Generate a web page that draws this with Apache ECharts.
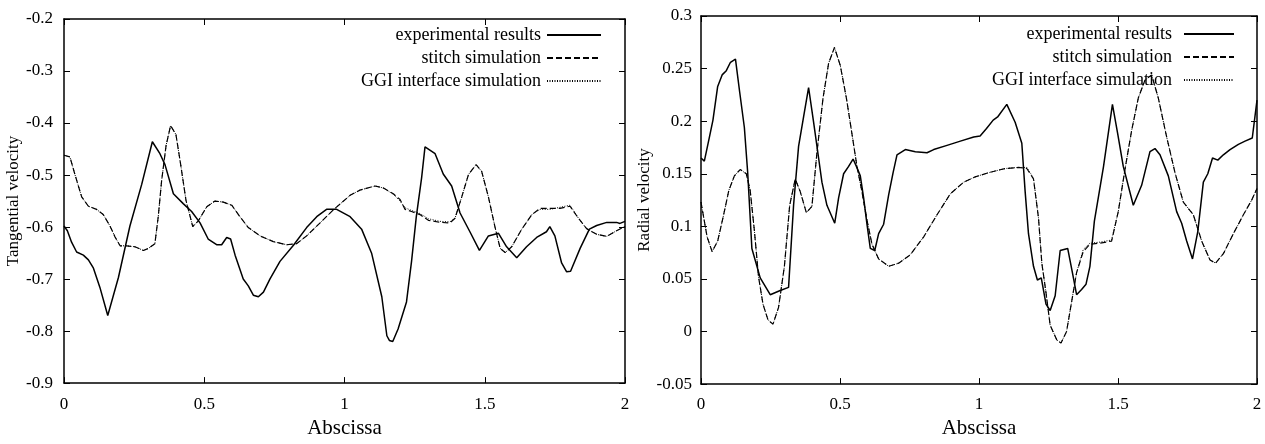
<!DOCTYPE html>
<html>
<head>
<meta charset="utf-8">
<script src="https://cdn.jsdelivr.net/npm/echarts@6/dist/echarts.min.js"></script>
<style>
  html, body { margin: 0; padding: 0; background: #fff; }
  #chart { width: 1265px; height: 444px; }
</style>
</head>
<body>
<div id="chart"></div>
<script>
// legend names
const seriesNames = ['experimental results', 'stitch simulation', 'GGI interface simulation'];

// tick setup
const xTicks = { min: 0, max: 2, interval: 0.5 };
const tanTicks = { min: -0.9, max: -0.2, interval: 0.1 };
const radTicks = { min: -0.05, max: 0.3, interval: 0.05 };

// left panel: tangential velocity [abscissa, value]
const tanExperimental = [
  [0, -0.598], [0.012, -0.607], [0.027, -0.629], [0.045, -0.648], [0.069, -0.654], [0.087, -0.663],
  [0.105, -0.679], [0.128, -0.716], [0.156, -0.770], [0.194, -0.697], [0.235, -0.598], [0.277, -0.518],
  [0.315, -0.436], [0.342, -0.459], [0.360, -0.480], [0.390, -0.536], [0.425, -0.555], [0.455, -0.570],
  [0.485, -0.592], [0.514, -0.623], [0.544, -0.634], [0.562, -0.634], [0.580, -0.620], [0.594, -0.623],
  [0.610, -0.654], [0.639, -0.700], [0.657, -0.713], [0.675, -0.731], [0.693, -0.734], [0.711, -0.725],
  [0.734, -0.700], [0.770, -0.666], [0.818, -0.635], [0.865, -0.601], [0.901, -0.580], [0.936, -0.566],
  [0.972, -0.566], [1.020, -0.580], [1.061, -0.604], [1.097, -0.651], [1.133, -0.734], [1.151, -0.809],
  [1.160, -0.818], [1.172, -0.820], [1.191, -0.796], [1.221, -0.744], [1.239, -0.666], [1.256, -0.580],
  [1.275, -0.505], [1.287, -0.446], [1.323, -0.459], [1.352, -0.498], [1.382, -0.521], [1.412, -0.573],
  [1.448, -0.610], [1.481, -0.645], [1.513, -0.617], [1.549, -0.612], [1.578, -0.638], [1.614, -0.659],
  [1.649, -0.638], [1.685, -0.620], [1.720, -0.609], [1.732, -0.599], [1.750, -0.617], [1.774, -0.669],
  [1.792, -0.686], [1.806, -0.685], [1.840, -0.641], [1.873, -0.604], [1.899, -0.597], [1.935, -0.591],
  [1.970, -0.591], [1.982, -0.593], [2.0, -0.589]
];
const tanStitch = [
  [0, -0.462], [0.021, -0.465], [0.039, -0.499], [0.063, -0.542], [0.087, -0.560], [0.116, -0.566],
  [0.140, -0.576], [0.164, -0.598], [0.182, -0.619], [0.200, -0.636], [0.223, -0.636], [0.253, -0.638],
  [0.283, -0.645], [0.301, -0.641], [0.324, -0.632], [0.336, -0.580], [0.348, -0.511], [0.364, -0.443],
  [0.380, -0.405], [0.399, -0.422], [0.416, -0.480], [0.435, -0.549], [0.459, -0.599], [0.479, -0.588],
  [0.509, -0.561], [0.538, -0.550], [0.568, -0.552], [0.598, -0.558], [0.627, -0.580], [0.657, -0.601],
  [0.699, -0.617], [0.746, -0.628], [0.794, -0.634], [0.829, -0.632], [0.865, -0.617], [0.913, -0.592],
  [0.960, -0.567], [1.020, -0.539], [1.055, -0.529], [1.109, -0.521], [1.139, -0.525], [1.174, -0.536],
  [1.198, -0.547], [1.216, -0.566], [1.239, -0.570], [1.269, -0.576], [1.299, -0.587], [1.340, -0.591],
  [1.376, -0.592], [1.394, -0.583], [1.418, -0.542], [1.442, -0.499], [1.469, -0.480], [1.489, -0.493],
  [1.513, -0.542], [1.537, -0.601], [1.555, -0.641], [1.573, -0.649], [1.596, -0.638], [1.632, -0.604],
  [1.668, -0.576], [1.697, -0.564], [1.733, -0.564], [1.768, -0.564], [1.804, -0.560], [1.834, -0.583],
  [1.863, -0.603], [1.899, -0.614], [1.935, -0.618], [1.970, -0.607], [2.0, -0.599]
];
const tanGGI = [
  [0, -0.462], [0.021, -0.465], [0.039, -0.499], [0.063, -0.542], [0.087, -0.560], [0.116, -0.566],
  [0.140, -0.576], [0.164, -0.598], [0.182, -0.619], [0.200, -0.636], [0.223, -0.636], [0.253, -0.638],
  [0.283, -0.645], [0.301, -0.641], [0.324, -0.632], [0.336, -0.580], [0.348, -0.511], [0.364, -0.443],
  [0.380, -0.405], [0.399, -0.422], [0.416, -0.480], [0.435, -0.549], [0.459, -0.599], [0.479, -0.588],
  [0.509, -0.561], [0.538, -0.550], [0.568, -0.552], [0.598, -0.558], [0.627, -0.580], [0.657, -0.601],
  [0.699, -0.617], [0.746, -0.628], [0.794, -0.634], [0.829, -0.632], [0.865, -0.617], [0.913, -0.592],
  [0.960, -0.567], [1.020, -0.539], [1.055, -0.529], [1.109, -0.521], [1.139, -0.525], [1.174, -0.537],
  [1.198, -0.550], [1.216, -0.563], [1.239, -0.568], [1.269, -0.574], [1.299, -0.584], [1.340, -0.589],
  [1.376, -0.590], [1.394, -0.583], [1.418, -0.542], [1.442, -0.499], [1.469, -0.480], [1.489, -0.493],
  [1.513, -0.542], [1.537, -0.601], [1.555, -0.641], [1.573, -0.649], [1.596, -0.638], [1.632, -0.604],
  [1.668, -0.576], [1.697, -0.566], [1.733, -0.566], [1.768, -0.562], [1.804, -0.558], [1.834, -0.583],
  [1.863, -0.603], [1.899, -0.614], [1.935, -0.618], [1.970, -0.607], [2.0, -0.599]
];

// right panel: radial velocity [abscissa, value]
const radExperimental = [
  [0, 0.165], [0.012, 0.162], [0.028, 0.182], [0.043, 0.201], [0.060, 0.233], [0.076, 0.244],
  [0.091, 0.248], [0.106, 0.256], [0.124, 0.259], [0.139, 0.228], [0.156, 0.194], [0.168, 0.151],
  [0.183, 0.079], [0.213, 0.051], [0.249, 0.035], [0.285, 0.039], [0.315, 0.042], [0.333, 0.120],
  [0.351, 0.176], [0.369, 0.204], [0.387, 0.232], [0.405, 0.199], [0.423, 0.165], [0.435, 0.142],
  [0.453, 0.120], [0.481, 0.103], [0.495, 0.127], [0.513, 0.150], [0.531, 0.157], [0.547, 0.164],
  [0.559, 0.157], [0.573, 0.148], [0.585, 0.127], [0.597, 0.102], [0.609, 0.079], [0.625, 0.077],
  [0.639, 0.093], [0.657, 0.102], [0.675, 0.130], [0.691, 0.151], [0.705, 0.168], [0.735, 0.173],
  [0.771, 0.171], [0.813, 0.170], [0.837, 0.173], [0.885, 0.177], [0.933, 0.181], [0.981, 0.185],
  [1.004, 0.186], [1.027, 0.193], [1.051, 0.201], [1.067, 0.204], [1.100, 0.216], [1.130, 0.199],
  [1.154, 0.179], [1.166, 0.133], [1.178, 0.093], [1.196, 0.062], [1.210, 0.049], [1.224, 0.051],
  [1.241, 0.026], [1.256, 0.020], [1.274, 0.034], [1.292, 0.077], [1.319, 0.079], [1.336, 0.056],
  [1.351, 0.035], [1.369, 0.040], [1.385, 0.045], [1.399, 0.062], [1.415, 0.105], [1.448, 0.157],
  [1.480, 0.216], [1.499, 0.188], [1.519, 0.157], [1.555, 0.120], [1.585, 0.139], [1.615, 0.171],
  [1.633, 0.174], [1.651, 0.168], [1.681, 0.148], [1.711, 0.114], [1.729, 0.103], [1.747, 0.086],
  [1.768, 0.069], [1.787, 0.095], [1.807, 0.142], [1.823, 0.150], [1.840, 0.165], [1.859, 0.163],
  [1.879, 0.168], [1.903, 0.173], [1.933, 0.178], [1.957, 0.181], [1.983, 0.184], [2.0, 0.220]
];
const radStitch = [
  [0, 0.123], [0.010, 0.108], [0.022, 0.090], [0.040, 0.076], [0.060, 0.086], [0.079, 0.108],
  [0.100, 0.134], [0.120, 0.148], [0.141, 0.154], [0.163, 0.150], [0.177, 0.134], [0.192, 0.096],
  [0.207, 0.052], [0.223, 0.026], [0.241, 0.011], [0.259, 0.007], [0.279, 0.023], [0.300, 0.062],
  [0.319, 0.120], [0.339, 0.145], [0.357, 0.133], [0.379, 0.113], [0.399, 0.119], [0.417, 0.170],
  [0.439, 0.222], [0.459, 0.255], [0.480, 0.270], [0.501, 0.253], [0.523, 0.222], [0.543, 0.188],
  [0.561, 0.157], [0.579, 0.133], [0.597, 0.106], [0.615, 0.083], [0.639, 0.069], [0.675, 0.062],
  [0.711, 0.065], [0.753, 0.073], [0.801, 0.090], [0.849, 0.111], [0.897, 0.131], [0.945, 0.142],
  [0.986, 0.147], [1.034, 0.151], [1.094, 0.155], [1.142, 0.156], [1.172, 0.155], [1.196, 0.145],
  [1.214, 0.108], [1.226, 0.065], [1.241, 0.037], [1.256, 0.006], [1.280, -0.008], [1.295, -0.011],
  [1.315, 0.000], [1.333, 0.028], [1.351, 0.056], [1.375, 0.076], [1.399, 0.083], [1.435, 0.084],
  [1.477, 0.086], [1.501, 0.114], [1.525, 0.154], [1.549, 0.191], [1.573, 0.222], [1.597, 0.239],
  [1.621, 0.244], [1.645, 0.222], [1.675, 0.185], [1.705, 0.151], [1.735, 0.123], [1.771, 0.111],
  [1.801, 0.086], [1.831, 0.068], [1.851, 0.065], [1.879, 0.074], [1.915, 0.093], [1.951, 0.111],
  [1.981, 0.125], [2.0, 0.136]
];
const radGGI = [
  [0, 0.123], [0.010, 0.108], [0.022, 0.090], [0.040, 0.076], [0.060, 0.086], [0.079, 0.108],
  [0.100, 0.134], [0.120, 0.148], [0.141, 0.154], [0.163, 0.150], [0.177, 0.134], [0.192, 0.096],
  [0.207, 0.052], [0.223, 0.026], [0.241, 0.011], [0.259, 0.007], [0.279, 0.023], [0.300, 0.062],
  [0.319, 0.120], [0.339, 0.145], [0.357, 0.133], [0.379, 0.113], [0.399, 0.119], [0.417, 0.170],
  [0.439, 0.222], [0.459, 0.255], [0.480, 0.270], [0.501, 0.253], [0.523, 0.222], [0.543, 0.188],
  [0.561, 0.157], [0.579, 0.133], [0.597, 0.106], [0.615, 0.083], [0.639, 0.069], [0.675, 0.062],
  [0.711, 0.065], [0.753, 0.073], [0.801, 0.090], [0.849, 0.111], [0.897, 0.131], [0.945, 0.142],
  [0.986, 0.147], [1.034, 0.151], [1.094, 0.155], [1.142, 0.156], [1.172, 0.156], [1.196, 0.146],
  [1.214, 0.108], [1.226, 0.065], [1.241, 0.037], [1.256, 0.006], [1.280, -0.008], [1.295, -0.011],
  [1.315, 0.000], [1.333, 0.028], [1.351, 0.056], [1.375, 0.078], [1.399, 0.084], [1.435, 0.085],
  [1.477, 0.087], [1.501, 0.114], [1.525, 0.154], [1.549, 0.191], [1.573, 0.222], [1.597, 0.239],
  [1.621, 0.244], [1.645, 0.222], [1.675, 0.185], [1.705, 0.151], [1.735, 0.123], [1.771, 0.111],
  [1.801, 0.086], [1.831, 0.068], [1.851, 0.065], [1.879, 0.074], [1.915, 0.093], [1.951, 0.111],
  [1.981, 0.125], [2.0, 0.136]
];

const font = '"Liberation Serif", "Times New Roman", serif';
const black = '#000';

function makeAxis(gridIndex, ticks, pos, opts) {
  return Object.assign({
    gridIndex: gridIndex,
    type: 'value',
    position: pos,
    min: ticks.min,
    max: ticks.max,
    interval: ticks.interval,
    axisLine: { show: true, onZero: false, lineStyle: { color: black, width: 1.5 } },
    axisTick: { show: true, inside: true, length: 6, lineStyle: { color: black, width: 1 } },
    axisLabel: { show: false },
    splitLine: { show: false }
  }, opts || {});
}

function labelStyle(margin) {
  return { show: true, color: black, fontFamily: font, fontSize: 17, margin: margin };
}

function lineSeries(name, data, xi, yi, type, width) {
  return {
    name: name,
    type: 'line',
    xAxisIndex: xi,
    yAxisIndex: yi,
    data: data,
    symbol: 'none',
    animation: false,
    color: black,
    lineStyle: { color: black, width: width, type: type }
  };
}

// legend: line sample only, symbol made invisible
function legendAt(right, top, width, textGap) {
  return {
    data: seriesNames, orient: 'vertical', right: right, top: top, align: 'right',
    itemWidth: width, itemHeight: 10, itemGap: 5,
    itemStyle: { color: 'transparent', borderColor: 'transparent', borderWidth: 0 },
    textStyle: { color: black, fontFamily: font, fontSize: 18, padding: [0, textGap, 0, 0] }
  };
}

const dashType = [6, 3];
const dotType = [1, 1.5];

const option = {
  backgroundColor: '#fff',
  animation: false,
  grid: [
    { left: 64, right: 640, top: 19, bottom: 48 },
    { left: 701, right: 8, top: 16, bottom: 50 }
  ],
  legend: [
    legendAt(658, 21, 54, 1),
    legendAt(25, 20, 50, 7)
  ],
  xAxis: [
    makeAxis(0, xTicks, 'bottom', {
      axisLabel: labelStyle(13),
      name: 'Abscissa', nameLocation: 'middle', nameGap: 20,
      nameTextStyle: { color: black, fontFamily: font, fontSize: 21 }
    }),
    makeAxis(0, xTicks, 'top'),
    makeAxis(1, xTicks, 'bottom', {
      axisLabel: labelStyle(12),
      name: 'Abscissa', nameLocation: 'middle', nameGap: 19,
      nameTextStyle: { color: black, fontFamily: font, fontSize: 21 }
    }),
    makeAxis(1, xTicks, 'top')
  ],
  yAxis: [
    makeAxis(0, tanTicks, 'left', {
      axisLabel: labelStyle(11),
      name: 'Tangential velocity', nameLocation: 'middle', nameGap: 42,
      nameTextStyle: { color: black, fontFamily: font, fontSize: 17 }
    }),
    makeAxis(0, tanTicks, 'right'),
    makeAxis(1, radTicks, 'left', {
      axisLabel: labelStyle(9),
      name: 'Radial velocity', nameLocation: 'middle', nameGap: 48,
      nameTextStyle: { color: black, fontFamily: font, fontSize: 17 }
    }),
    makeAxis(1, radTicks, 'right')
  ],
  series: [
    lineSeries(seriesNames[1], tanStitch, 0, 0, dashType, 1.2),
    lineSeries(seriesNames[2], tanGGI, 0, 0, dotType, 1),
    lineSeries(seriesNames[0], tanExperimental, 0, 0, 'solid', 1.5),
    lineSeries(seriesNames[1], radStitch, 2, 2, dashType, 1.2),
    lineSeries(seriesNames[2], radGGI, 2, 2, dotType, 1),
    lineSeries(seriesNames[0], radExperimental, 2, 2, 'solid', 1.5)
  ]
};

const myChart = echarts.init(document.getElementById('chart'));
myChart.setOption(option);
window.addEventListener('resize', () => {
  myChart.resize();
});
</script>
</body>
</html>
